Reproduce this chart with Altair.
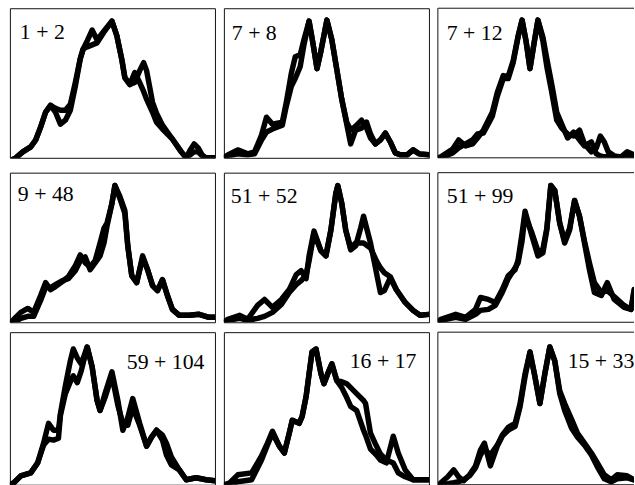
import altair as alt
import pandas as pd

LABELS = ["1 + 2", "7 + 8", "7 + 12", "9 + 48", "51 + 52", "51 + 99",
          "59 + 104", "16 + 17", "15 + 33"]

# panel 1
X1 = [0, 6, 13, 21, 26, 31, 36, 41, 46, 51, 56, 61, 66, 71, 74, 78, 83, 88, 95, 103,
      108, 113, 116, 121, 126, 131, 135, 138, 144, 148, 154, 164, 173, 178, 182, 186,
      190, 194, 198, 207]
A1 = [-3, 0, 6, 11, 18, 31, 46, 53, 50, 48, 48, 54, 76, 100, 110, 118, 129, 119, 128, 138,
      123, 99, 81, 74, 86, 76, 67, 59, 46, 36, 29, 19, 6, 0, 8, 14, 10, 3, 0, 0]
B1 = [-3, 0, 6, 11, 18, 31, 46, 53, 46, 34, 38, 48, 72, 100, 110, 112, 114, 116, 127, 138,
      123, 99, 81, 74, 76, 88, 96, 88, 56, 45, 33, 19, 6, 0, 3, 6, 6, 2, 0, 0]
# panel 2
X2 = [0, 4, 14, 24, 31, 38, 43, 49, 59, 63, 68, 72, 77, 81, 86, 90, 94, 98, 104, 109,
      114, 119, 124, 128, 133, 139, 144, 148, 153, 158, 163, 168, 173, 178, 185, 191, 197, 207]
A2 = [0, 3, 8, 4, 6, 23, 41, 34, 36, 56, 85, 102, 104, 120, 138, 115, 90, 108, 139, 119,
      89, 59, 36, 28, 32, 38, 30, 20, 14, 18, 25, 16, 5, 3, 3, 8, 4, 3]
B2 = [0, 2, 4, 3, 4, 18, 26, 29, 33, 52, 72, 80, 92, 115, 138, 115, 90, 108, 139, 119,
      89, 59, 34, 14, 28, 30, 36, 24, 14, 18, 25, 16, 5, 3, 3, 8, 4, 3]
# panel 3
X3 = [0, 3, 15, 21, 28, 35, 40, 46, 55, 60, 66, 71, 76, 81, 85, 89, 93, 97, 101, 106,
      110, 115, 120, 125, 131, 137, 143, 148, 155, 160, 164, 168, 172, 178, 185, 191, 198]
A3 = [0, 1, 9, 18, 12, 14, 20, 28, 46, 66, 83, 82, 98, 123, 139, 118, 90, 115, 139, 118,
      92, 66, 38, 30, 24, 22, 28, 14, 6, 10, 22, 16, 6, 2, 1, 6, 3]
B3 = [0, 0, 5, 10, 14, 18, 24, 25, 42, 62, 80, 80, 96, 122, 139, 118, 90, 115, 139, 122,
      100, 74, 46, 34, 20, 26, 18, 12, 16, 4, 2, 1, 1, 1, 0, 2, 1]
# panel 4
X4 = [0, 4, 11, 18, 24, 31, 36, 41, 46, 53, 59, 66, 71, 76, 81, 86, 91, 95, 98, 103,
      106, 111, 116, 119, 123, 128, 134, 139, 144, 149, 154, 159, 164, 171, 181, 191, 201, 207]
A4 = [-2, 3, 10, 14, 10, 27, 40, 33, 36, 41, 46, 57, 68, 60, 56, 62, 80, 95, 100, 120,
      138, 127, 113, 77, 47, 40, 67, 53, 37, 32, 43, 27, 13, 7, 7, 8, 5, 5]
B4 = [-2, 0, 4, 6, 6, 22, 35, 35, 38, 42, 44, 52, 62, 66, 53, 60, 67, 80, 97, 120,
      138, 125, 110, 77, 47, 40, 65, 53, 37, 32, 43, 27, 13, 7, 7, 8, 5, 5]
# panel 5
X5 = [0, 4, 16, 24, 34, 41, 49, 58, 66, 73, 78, 83, 86, 91, 98, 103, 108, 113, 115, 119,
      123, 128, 133, 138, 141, 148, 154, 158, 162, 168, 174, 183, 191, 198, 207]
A5 = [0, 3, 7, 3, 17, 23, 15, 23, 33, 48, 52, 44, 67, 92, 72, 67, 93, 130, 138, 120,
      93, 73, 77, 95, 107, 80, 50, 30, 32, 45, 33, 20, 12, 7, 8]
B5 = [0, 2, 4, 2, 4, 6, 10, 18, 30, 38, 42, 48, 62, 90, 72, 67, 93, 130, 138, 120,
      93, 75, 80, 80, 80, 75, 62, 55, 50, 46, 33, 20, 12, 7, 8]
# panel 6
X6 = [0, 3, 18, 28, 38, 43, 51, 58, 65, 71, 78, 81, 85, 88, 95, 101, 106, 110, 114, 118,
      123, 128, 133, 138, 143, 148, 153, 158, 165, 171, 178, 188, 195, 198]
A6 = [0, 3, 8, 5, 13, 25, 23, 20, 33, 47, 53, 63, 90, 112, 87, 67, 70, 93, 138, 133,
      100, 80, 93, 123, 107, 80, 53, 30, 27, 40, 23, 15, 13, 33]
B6 = [0, 2, 5, 3, 8, 12, 13, 17, 30, 44, 55, 60, 82, 108, 90, 72, 74, 95, 138, 133,
      100, 82, 95, 123, 107, 82, 60, 40, 30, 32, 26, 17, 13, 30]
# panel 7
X7 = [0, 4, 11, 21, 28, 34, 39, 44, 49, 51, 56, 61, 64, 68, 72, 78, 83, 88, 91, 96,
      103, 109, 114, 119, 124, 131, 138, 143, 148, 154, 158, 163, 171, 178, 188, 198, 207]
A7 = [0, 2, 9, 12, 22, 42, 62, 55, 55, 72, 100, 125, 137, 128, 122, 139, 119, 85, 75, 92,
      114, 85, 55, 68, 87, 62, 39, 48, 55, 45, 30, 20, 15, 5, 7, 5, 4]
B7 = [0, 2, 9, 12, 22, 40, 46, 45, 47, 70, 92, 104, 110, 103, 115, 139, 119, 85, 75, 88,
      110, 80, 62, 60, 78, 60, 39, 48, 55, 50, 42, 28, 15, 5, 7, 5, 4]
# panel 8
X8 = [0, 6, 14, 28, 38, 44, 49, 56, 61, 66, 69, 76, 79, 83, 86, 89, 93, 98, 101, 106,
      109, 114, 119, 124, 128, 134, 141, 143, 148, 154, 158, 164, 171, 176, 183, 191, 204, 207]
A8 = [0, 2, 10, 12, 29, 42, 54, 39, 32, 52, 65, 62, 69, 89, 112, 134, 137, 112, 102, 115,
      122, 105, 104, 102, 98, 92, 85, 82, 52, 39, 31, 25, 22, 12, 8, 5, 5, 5]
B8 = [-2, 0, 3, 5, 25, 40, 52, 39, 32, 52, 65, 62, 69, 89, 112, 134, 137, 112, 102, 115,
      122, 105, 98, 88, 79, 75, 55, 50, 36, 30, 25, 22, 49, 32, 15, 5, 5, 5]
# panel 9
X9 = [0, 3, 10, 16, 21, 26, 32, 38, 43, 47, 53, 60, 65, 71, 78, 83, 88, 93, 98, 103,
      108, 113, 118, 123, 128, 135, 141, 148, 155, 161, 168, 175, 181, 191, 198]
A9 = [-2, 2, 8, 15, 8, 4, 10, 19, 35, 42, 19, 39, 49, 55, 59, 79, 109, 134, 109, 82,
      112, 139, 125, 95, 82, 66, 52, 42, 32, 22, 10, 5, 10, 9, 5]
B9 = [-2, 0, 1, 2, 3, 5, 9, 17, 30, 36, 30, 40, 50, 58, 62, 82, 112, 134, 109, 82,
      112, 139, 125, 92, 75, 57, 48, 40, 30, 18, 6, 3, 6, 7, 5]

SERIES = [(X1, A1, B1), (X2, A2, B2), (X3, A3, B3),
          (X4, A4, B4), (X5, A5, B5), (X6, A6, B6),
          (X7, A7, B7), (X8, A8, B8), (X9, A9, B9)]

# layout / style
COL_W = [207, 207, 198]
ROW_H = [151, 151, 154]
LABEL_POS = [(10, 31), (8, 32), (9, 32),
             (8, 29), (7, 31), (9, 31),
             (118, 37), (127, 36), (131, 36)]
BORDER = "#111111"


def panel(i):
    r, c = divmod(i, 3)
    w, h = COL_W[c], ROW_H[r]
    xs, ya, yb = SERIES[i]
    df = pd.DataFrame({"x": xs + xs, "y": ya + yb,
                       "run": ["a"] * len(xs) + ["b"] * len(xs)})
    lines = alt.Chart(df).mark_line(
        color="black", strokeWidth=5.5, clip=True, strokeJoin="round", strokeCap="round"
    ).encode(
        x=alt.X("x:Q", scale=alt.Scale(domain=[0, w], nice=False, zero=False), axis=None),
        y=alt.Y("y:Q", scale=alt.Scale(domain=[0, h], nice=False, zero=False), axis=None),
        detail="run:N",
    )
    lx, ly = LABEL_POS[i]
    text = alt.Chart(pd.DataFrame({"label": [LABELS[i]]})).mark_text(
        font="Liberation Serif", fontSize=22, align="left", baseline="alphabetic",
        color="black", clip=True
    ).encode(x=alt.value(lx), y=alt.value(ly), text="label:N")
    layers = [lines, text]
    props = dict(width=w, height=h)
    if c == 2:
        one = pd.DataFrame({"k": [0]})
        rule = alt.Chart(one).mark_rule(color=BORDER, strokeWidth=1)
        layers += [
            rule.encode(x=alt.value(0), y=alt.value(0), y2=alt.value(h)),
            rule.encode(x=alt.value(0), x2=alt.value(w), y=alt.value(0)),
            rule.encode(x=alt.value(0), x2=alt.value(w), y=alt.value(h)),
        ]
        props["view"] = alt.ViewBackground(strokeOpacity=0)
    return alt.layer(*layers).properties(**props)


rows = [alt.hconcat(*[panel(r * 3 + c) for c in range(3)], spacing=7) for r in range(3)]
top = alt.vconcat(rows[0], rows[1], spacing=13)
chart = alt.vconcat(top, rows[2], spacing=8).properties(
    padding={"left": 9, "top": 5, "right": 0, "bottom": 0},
    background="white",
).configure_view(stroke=BORDER, strokeWidth=1)

chart.save("out.html", embed_options={"renderer": "svg", "actions": False})
